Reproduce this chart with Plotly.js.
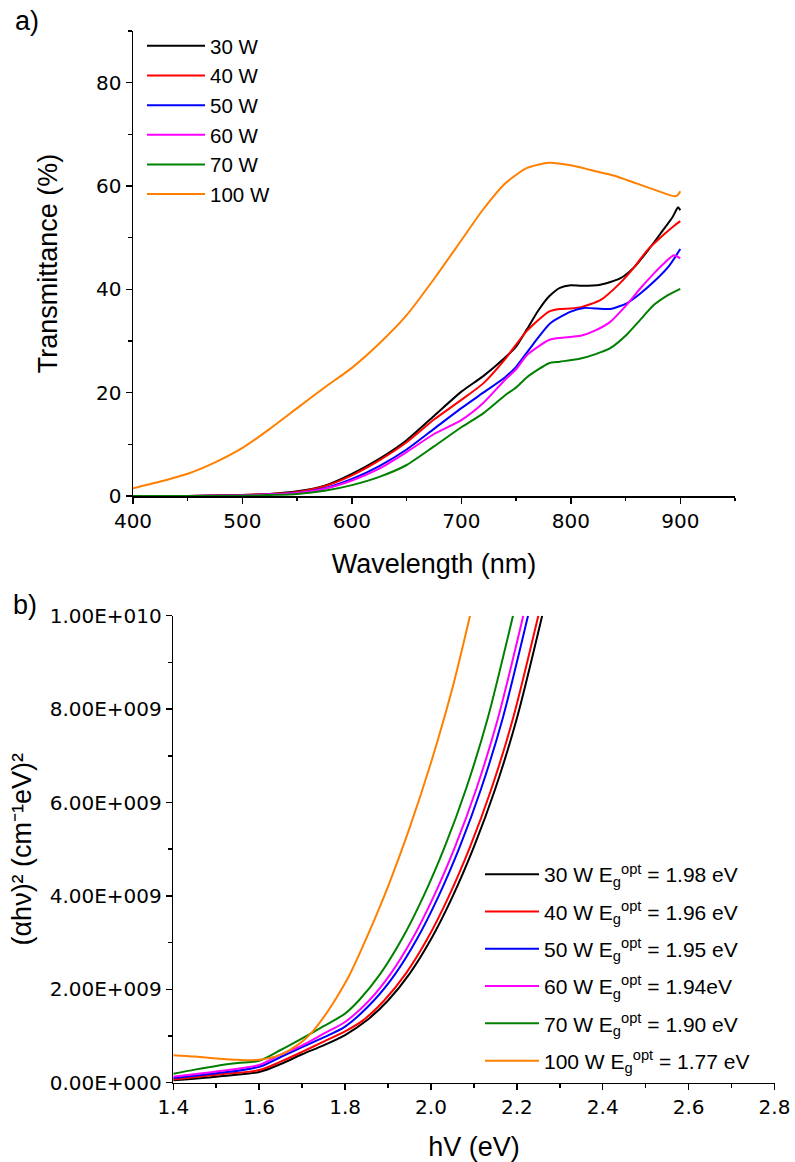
<!DOCTYPE html>
<html>
<head>
<meta charset="utf-8">
<script src="https://cdn.plot.ly/plotly-3.0.1.min.js"></script>
<style>
  html, body { margin: 0; padding: 0; background: #ffffff; }
  #chart { width: 795px; height: 1162px; }
</style>
</head>
<body>
<div id="chart"></div>
<script>
// ---------- Panel a: transmittance ----------
const seriesNames = ['30 W', '40 W', '50 W', '60 W', '70 W', '100 W'];
const seriesColors = ['#000000', '#ff0000', '#0000ff', '#ff00ff', '#008000', '#ff8000'];

const wl30 = [400, 450, 500, 525, 550, 575, 600, 625, 650, 675, 700, 720, 740, 750, 760, 770, 780, 790, 800, 810, 827, 845, 858, 870, 882, 893, 898, 900];
const T30  = [0, 0, 0.2, 0.4, 0.9, 2.0, 4.3, 7.2, 10.8, 15.5, 20.2, 23.2, 26.8, 28.9, 32.3, 35.8, 38.6, 40.3, 40.8, 40.7, 40.9, 42.1, 44.3, 47.4, 50.8, 54.0, 55.9, 55.3];

const wl40 = [400, 450, 500, 525, 550, 575, 600, 625, 650, 675, 700, 720, 740, 760, 780, 790, 800, 810, 827, 845, 858, 870, 885, 895, 900];
const T40  = [0, 0, 0.2, 0.4, 0.8, 1.9, 4.0, 6.9, 10.4, 14.8, 18.6, 21.8, 26.5, 32.0, 35.7, 36.2, 36.3, 36.6, 37.9, 41.2, 44.3, 47.6, 50.6, 52.4, 53.2];

const wl50 = [400, 450, 500, 525, 550, 575, 600, 625, 650, 675, 700, 720, 740, 750, 766, 781, 800, 812, 836, 851, 863, 876, 890, 900];
const T50  = [0, 0, 0.1, 0.3, 0.6, 1.5, 3.3, 5.8, 9.0, 13.0, 17.0, 20.0, 23.0, 25.0, 29.5, 33.4, 35.7, 36.4, 36.2, 37.3, 39.1, 41.5, 44.6, 47.8];

const wl60 = [400, 450, 500, 525, 550, 575, 600, 625, 650, 675, 700, 720, 740, 750, 760, 780, 790, 809, 822, 836, 851, 864, 876, 886, 894, 900];
const T60  = [0, 0, 0.1, 0.3, 0.6, 1.4, 3.0, 5.3, 8.5, 12.0, 14.7, 18.0, 22.5, 24.5, 27.3, 30.2, 30.6, 31.0, 32.0, 33.7, 37.0, 40.3, 43.1, 45.2, 46.6, 46.0];

const wl70 = [400, 450, 500, 525, 550, 575, 600, 625, 650, 675, 700, 720, 740, 750, 760, 780, 790, 809, 822, 836, 851, 863, 876, 888, 900];
const T70  = [0, 0, 0.05, 0.2, 0.4, 1.0, 2.1, 3.7, 6.0, 9.6, 13.3, 16.0, 19.5, 21.0, 23.0, 25.7, 26.0, 26.6, 27.4, 28.6, 31.2, 34.0, 37.0, 38.8, 40.1];

const wl100 = [400, 425, 450, 475, 500, 525, 550, 575, 600, 625, 650, 675, 700, 720, 740, 760, 780, 800, 820, 840, 860, 880, 895, 898, 900];
const T100  = [1.5, 2.8, 4.3, 6.5, 9.3, 13.0, 17.0, 21.0, 24.8, 29.5, 35.0, 42.0, 49.5, 55.5, 60.5, 63.5, 64.5, 64.0, 63.0, 62.0, 60.5, 59.0, 58.0, 58.3, 59.0];

const wlX = [wl30, wl40, wl50, wl60, wl70, wl100];
const TY  = [T30, T40, T50, T60, T70, T100];

const aXTicks = [400, 500, 600, 700, 800, 900];
const aYTicks = [0, 20, 40, 60, 80];

// ---------- Panel b: Tauc plot ----------
const bLegend = [
  '30 W E<sub>g</sub><sup>opt</sup> = 1.98 eV',
  '40 W E<sub>g</sub><sup>opt</sup> = 1.96 eV',
  '50 W E<sub>g</sub><sup>opt</sup> = 1.95 eV',
  '60 W E<sub>g</sub><sup>opt</sup> = 1.94eV',
  '70 W E<sub>g</sub><sup>opt</sup> = 1.90 eV',
  '100 W E<sub>g</sub><sup>opt</sup> = 1.77 eV'
];

// photon energy (eV) and (alpha h nu)^2 in units of 1e9
const e30 = [1.40, 1.50, 1.60, 1.65, 1.70, 1.75, 1.80, 1.85, 1.90, 1.95, 2.00, 2.05, 2.10, 2.15, 2.20, 2.259];
const a30 = [0.05, 0.13, 0.23, 0.40, 0.61, 0.80, 1.02, 1.33, 1.76, 2.33, 3.07, 3.98, 5.05, 6.30, 7.80, 10.0];

const e40 = [1.40, 1.50, 1.60, 1.65, 1.70, 1.75, 1.80, 1.841, 1.891, 1.941, 1.991, 2.041, 2.091, 2.141, 2.191, 2.250];
const a40 = [0.07, 0.17, 0.27, 0.45, 0.66, 0.88, 1.10, 1.33, 1.76, 2.33, 3.07, 3.98, 5.05, 6.30, 7.80, 10.0];

const e50 = [1.40, 1.50, 1.60, 1.65, 1.70, 1.75, 1.80, 1.867, 1.917, 1.967, 2.017, 2.067, 2.117, 2.167, 2.226];
const a50 = [0.10, 0.20, 0.34, 0.55, 0.76, 0.97, 1.20, 1.76, 2.33, 3.07, 3.98, 5.05, 6.30, 7.80, 10.0];

const e60 = [1.40, 1.50, 1.60, 1.65, 1.70, 1.75, 1.80, 1.856, 1.906, 1.956, 2.006, 2.056, 2.106, 2.156, 2.215];
const a60 = [0.13, 0.24, 0.38, 0.60, 0.80, 1.05, 1.30, 1.76, 2.33, 3.07, 3.98, 5.05, 6.30, 7.80, 10.0];

const e70 = [1.40, 1.45, 1.50, 1.55, 1.60, 1.65, 1.70, 1.75, 1.80, 1.832, 1.882, 1.932, 1.982, 2.032, 2.082, 2.132, 2.191];
const a70 = [0.19, 0.28, 0.36, 0.42, 0.47, 0.70, 0.95, 1.21, 1.48, 1.76, 2.33, 3.07, 3.98, 5.05, 6.30, 7.80, 10.0];

const e100 = [1.40, 1.45, 1.50, 1.55, 1.60, 1.65, 1.70, 1.72, 1.75, 1.78, 1.81, 1.85, 1.90, 1.95, 2.00, 2.05, 2.091];
const a100 = [0.59, 0.56, 0.52, 0.49, 0.49, 0.60, 0.88, 1.05, 1.40, 1.82, 2.30, 3.10, 4.20, 5.45, 6.85, 8.45, 10.0];

const eX = [e30, e40, e50, e60, e70, e100];
const aY = [a30, a40, a50, a60, a70, a100];
const bScale = 1e9;

const bXTicks = [1.4, 1.6, 1.8, 2.0, 2.2, 2.4, 2.6, 2.8];
const bYTicks = [0, 2e9, 4e9, 6e9, 8e9, 1e10];
const bYTickText = ['0.00E+000', '2.00E+009', '4.00E+009', '6.00E+009', '8.00E+009', '1.00E+010'];

// ---------- Build traces ----------
const traces = [];
for (let i = 0; i < seriesNames.length; i++) {
  traces.push({
    type: 'scatter', mode: 'lines',
    x: wlX[i], y: TY[i],
    name: seriesNames[i],
    line: {color: seriesColors[i], width: 2, shape: 'spline', smoothing: 0.6},
    xaxis: 'x', yaxis: 'y', legend: 'legend'
  });
}
for (let i = 0; i < bLegend.length; i++) {
  traces.push({
    type: 'scatter', mode: 'lines',
    x: eX[i], y: aY[i].map(v => v * bScale),
    name: bLegend[i], legendgroup: 'b' + i,
    line: {color: seriesColors[i], width: 2, shape: 'spline', smoothing: 0.8},
    xaxis: 'x2', yaxis: 'y2', legend: 'legend2'
  });
}

const W = 795, H = 1162;
const px = v => v / W;
const py = v => 1 - v / H;

const tickFont = {family: 'DejaVu Sans', size: 20, color: '#000'};
const titleFont = {family: 'Liberation Sans, Arial, sans-serif', size: 27, color: '#000'};

const axisBase = {
  showline: true, linecolor: '#000', linewidth: 1.5,
  ticks: 'outside', ticklen: 6, tickwidth: 1.5, tickcolor: '#000',
  showgrid: false, zeroline: false, mirror: false,
  tickfont: tickFont, automargin: false, fixedrange: true
};

const layout = {
  width: W, height: H,
  margin: {l: 0, r: 0, t: 0, b: 0},
  paper_bgcolor: '#fff', plot_bgcolor: '#fff',
  font: {family: 'Liberation Sans, Arial, sans-serif', color: '#000'},
  xaxis: Object.assign({}, axisBase, {
    domain: [px(133), px(735)], anchor: 'y',
    range: [400, 950], tickvals: aXTicks,
    minor: {ticks: 'outside', ticklen: 3.5, tickwidth: 1.5, tickcolor: '#000', dtick: 50, tick0: 400, showgrid: false},
    title: {text: 'Wavelength (nm)', font: titleFont, standoff: 22}
  }),
  yaxis: Object.assign({}, axisBase, {
    domain: [py(496), py(31)], anchor: 'x',
    range: [0, 90], tickvals: aYTicks,
    minor: {ticks: 'outside', ticklen: 3.5, tickwidth: 1.5, tickcolor: '#000', dtick: 10, tick0: 0, showgrid: false},
    title: {text: 'Transmittance (%)', font: titleFont, standoff: 30}
  }),
  xaxis2: Object.assign({}, axisBase, {
    domain: [px(173.3), px(774.5)], anchor: 'y2',
    range: [1.4, 2.8], tickvals: bXTicks, tickformat: '.1f',
    minor: {ticks: 'outside', ticklen: 3.5, tickwidth: 1.5, tickcolor: '#000', dtick: 0.1, tick0: 1.4, showgrid: false},
    title: {text: 'hV (eV)', font: titleFont, standoff: 20}
  }),
  yaxis2: Object.assign({}, axisBase, {
    domain: [py(1082.7), py(615.7)], anchor: 'x2',
    range: [0, 1e10], tickvals: bYTicks, ticktext: bYTickText,
    minor: {ticks: 'outside', ticklen: 3.5, tickwidth: 1.5, tickcolor: '#000', dtick: 1e9, tick0: 0, showgrid: false},
    title: {text: '(αhν)² (cm⁻¹eV)²', font: titleFont, standoff: 10}
  }),
  legend: {
    x: px(142), y: py(26), xanchor: 'left', yanchor: 'top',
    bgcolor: 'rgba(0,0,0,0)', borderwidth: 0,
    font: {family: 'Liberation Sans, Arial, sans-serif', size: 20.5, color: '#000'},
    tracegroupgap: 0, itemwidth: 58
  },
  legend2: {
    x: px(480), y: py(854), xanchor: 'left', yanchor: 'top',
    bgcolor: 'rgba(0,0,0,0)', borderwidth: 0,
    font: {family: 'Liberation Sans, Arial, sans-serif', size: 21, color: '#000'},
    tracegroupgap: 7, itemwidth: 54
  },
  annotations: [
    {text: 'a)', xref: 'paper', yref: 'paper', x: px(13), y: py(4), xanchor: 'left', yanchor: 'top',
     showarrow: false, font: {family: 'Liberation Sans, Arial, sans-serif', size: 27, color: '#000'}},
    {text: 'b)', xref: 'paper', yref: 'paper', x: px(11), y: py(588), xanchor: 'left', yanchor: 'top',
     showarrow: false, font: {family: 'Liberation Sans, Arial, sans-serif', size: 27, color: '#000'}}
  ],
  showlegend: true
};

Plotly.newPlot('chart', traces, layout, {displayModeBar: false, staticPlot: true});
</script>
</body>
</html>
